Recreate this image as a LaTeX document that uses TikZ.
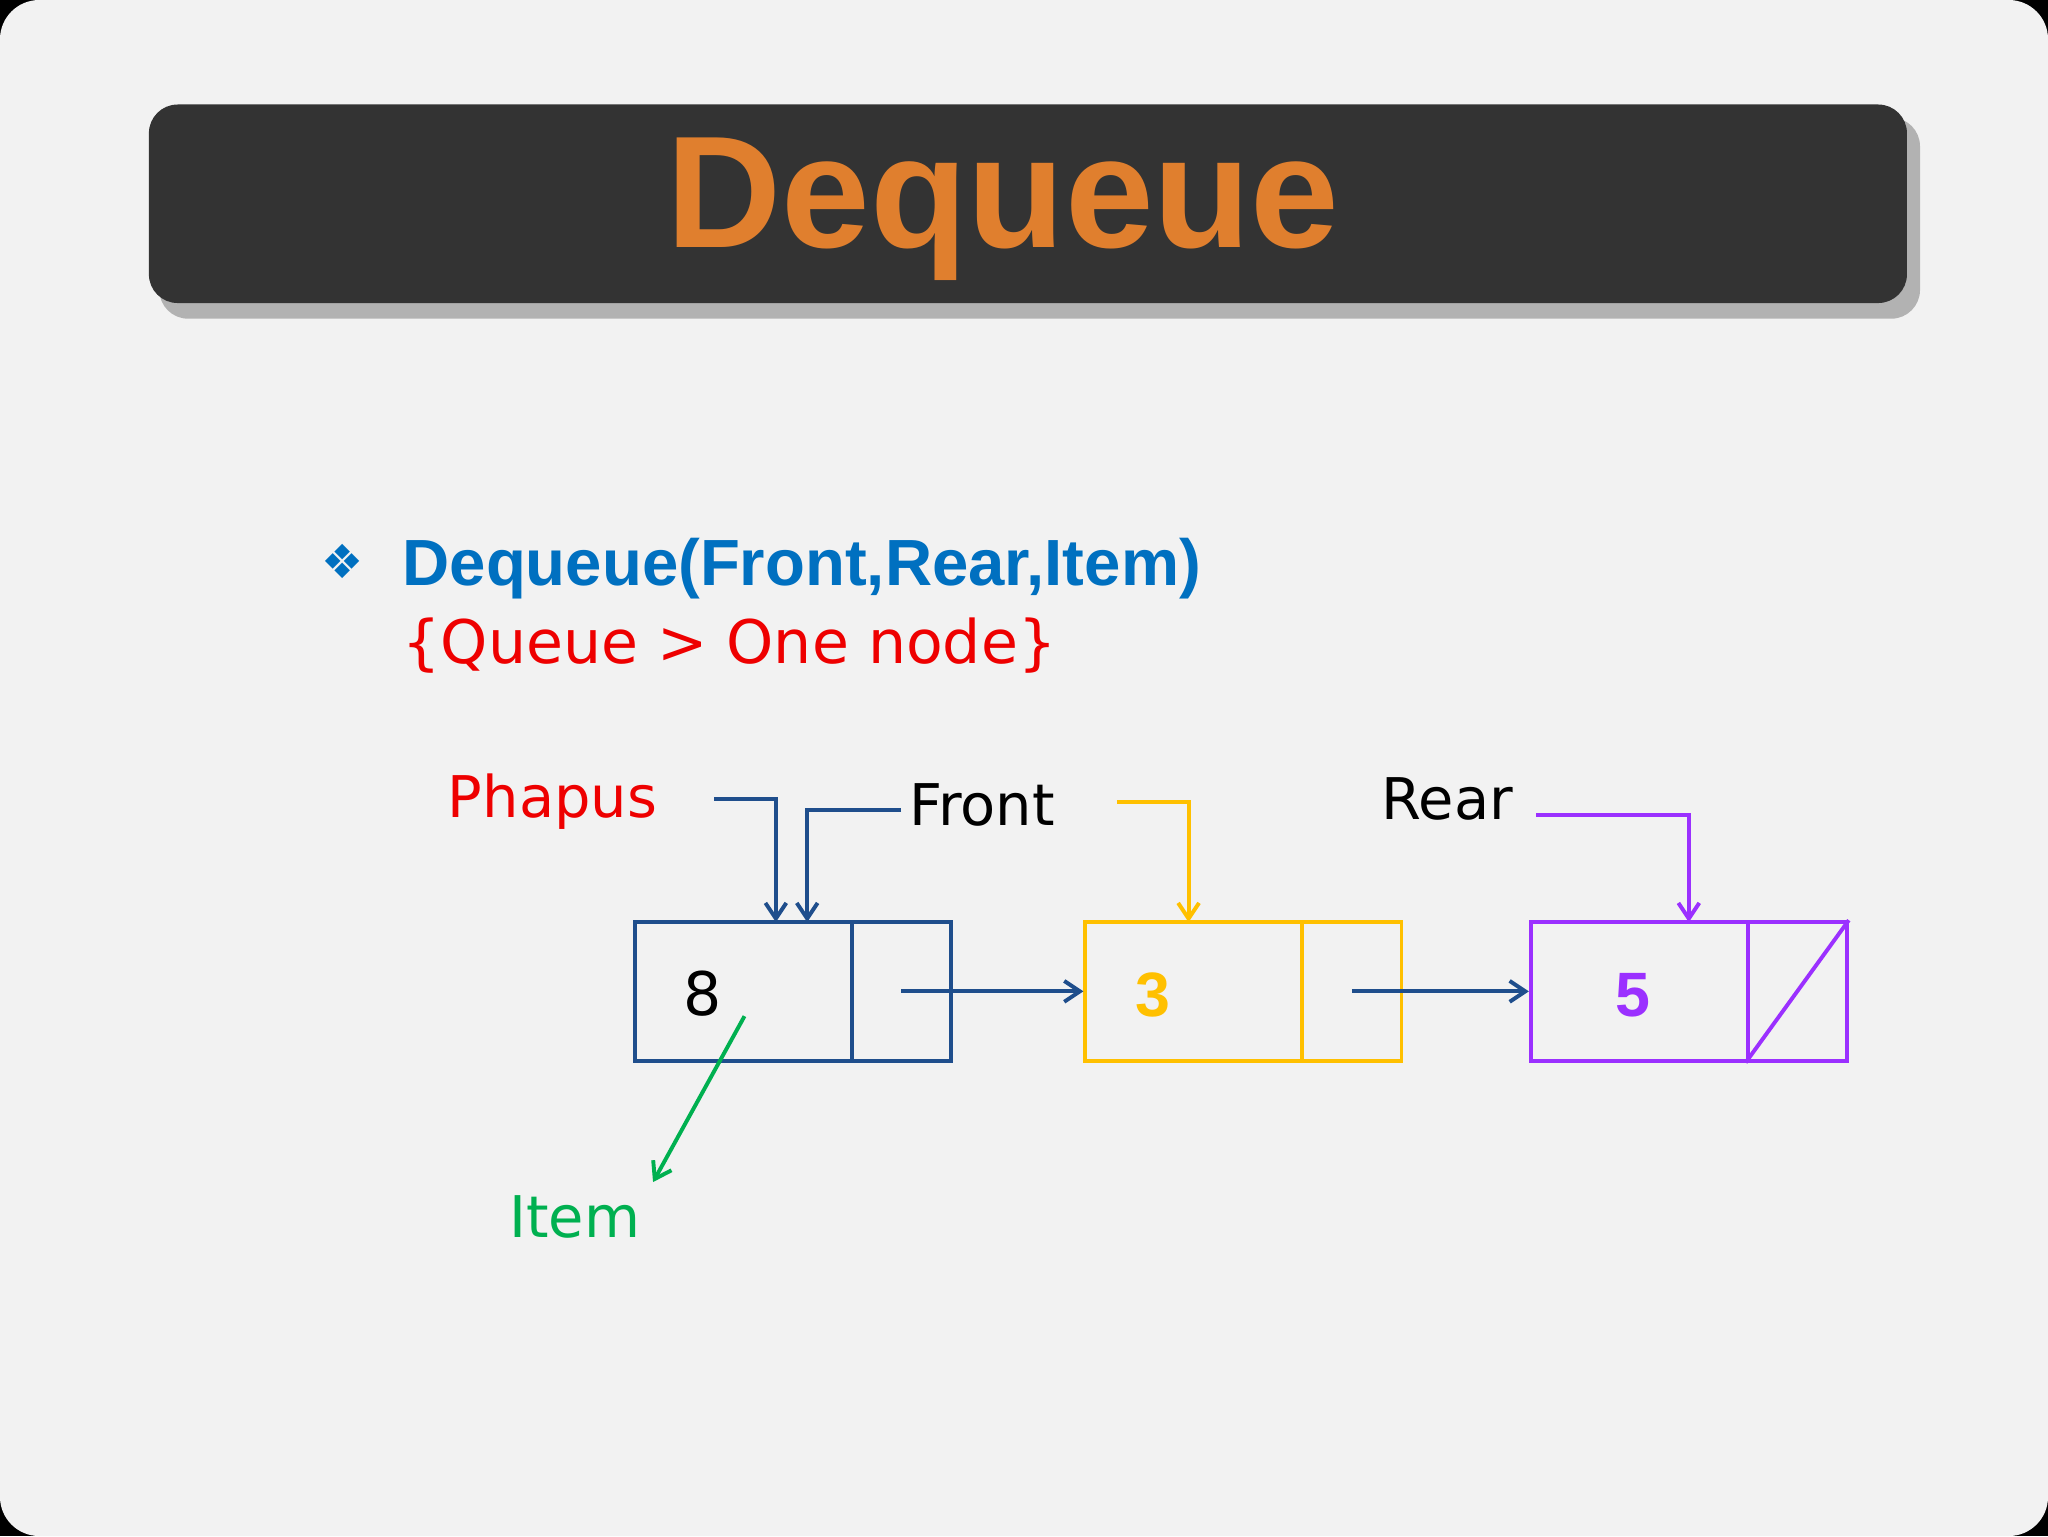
\documentclass[tikz,border=0pt]{standalone}
\usepackage{fontspec}
\setmainfont{DejaVu Sans}
\newfontfamily\arialf{Liberation Sans}
\usetikzlibrary{arrows.meta}
\definecolor{bg}{HTML}{F2F2F2}
\definecolor{bar}{HTML}{333333}
\definecolor{orng}{HTML}{E07F2E}
\definecolor{blu}{HTML}{0070C0}
\definecolor{dblu}{HTML}{1F4E8C}
\definecolor{yel}{HTML}{FFC000}
\definecolor{pur}{HTML}{9B30FF}
\definecolor{grn}{HTML}{00B050}
\definecolor{red1}{HTML}{EE0000}
\tikzset{
  lbl/.style={inner sep=0pt,font=\fontsize{44}{50}\selectfont},
  ptr/.style={line width=3pt,-{Straight Barb[length=12pt,width=16pt,line width=3pt]}},
  cell/.style={draw,line width=3pt,minimum height=106pt,inner sep=0pt}
}
\begin{document}
\begin{tikzpicture}[x=1pt,y=-1pt]
\fill[black] (0,0) rectangle (1568,1176);
\fill[bg,rounded corners=30pt] (0,0) rectangle (1568,1176);
\useasboundingbox (0,0) rectangle (1568,1176);
% title bar
\fill[black!55,opacity=0.5,rounded corners=22pt] (122,90) rectangle (1470,244);
\fill[bar,rounded corners=22pt] (114,80) rectangle (1460,232);
\node[font=\arialf\bfseries\fontsize{122}{130}\selectfont,text=orng,inner sep=0pt] (title) at (768,160) {Dequeue};
% heading
\node[anchor=west,text=blu,inner sep=0pt,font=\fontsize{36}{40}\selectfont] (bul) at (246,430) {❖};
\node[anchor=base west,text=blu,inner sep=0pt,font=\arialf\bfseries\fontsize{50}{56}\selectfont] (head) at (308,448) {Dequeue(Front,Rear,Item)};
\node[anchor=base west,text=red1,inner sep=0pt,font=\fontsize{46}{52}\selectfont] (cond) at (308,508) {\{Queue > One node\}};
% boxes
\node[cell,dblu,minimum width=166pt] (a1) at (569,759) {};
\node[cell,dblu,minimum width=76pt] (a2) at (690,759) {};
\node[cell,yel,minimum width=166pt] (b1) at (914,759) {};
\node[cell,yel,minimum width=76pt] (b2) at (1035,759) {};
\node[cell,pur,minimum width=166pt] (c1) at (1255,759) {};
\node[cell,pur,minimum width=76pt] (c2) at (1376,759) {};
\draw[pur,line width=3pt] (c2.south west) -- (c2.north east);
\node[font=\fontsize{46}{50}\selectfont,inner sep=0pt] (n8) at (538,761) {8};
\node[font=\arialf\bfseries\fontsize{48}{50}\selectfont,text=yel,inner sep=0pt] (n3) at (883,762) {3};
\node[font=\arialf\bfseries\fontsize{48}{50}\selectfont,text=pur,inner sep=0pt] (n5) at (1250,762) {5};
\draw[ptr,dblu] (a2.center) -- (b1.west);
\draw[ptr,dblu] (b2.center) -- (c1.west);
% labels
\node[lbl,text=red1] (ph) at (423,614) {Phapus};
\node[lbl] (fr) at (752,616) {Front};
\node[lbl] (re) at (1108,612) {Rear};
\node[lbl,text=grn] (it) at (440,932) {Item};
\coordinate (phs) at (547,612);
\coordinate (frs) at (690,620);
\coordinate (ys) at (855,614);
\coordinate (rs) at (1176,624);
\draw[ptr,dblu] (phs) -- (594,612) -- (594,706);
\draw[ptr,dblu] (frs) -- (618,620) -- (618,706);
\draw[ptr,yel] (ys) -- (910,614) -- (910,706);
\draw[ptr,pur] (rs) -- (1293,624) -- (1293,706);
\coordinate (gs) at (570,778);
\draw[ptr,grn] (gs) -- (500,905);
\end{tikzpicture}
\end{document}
